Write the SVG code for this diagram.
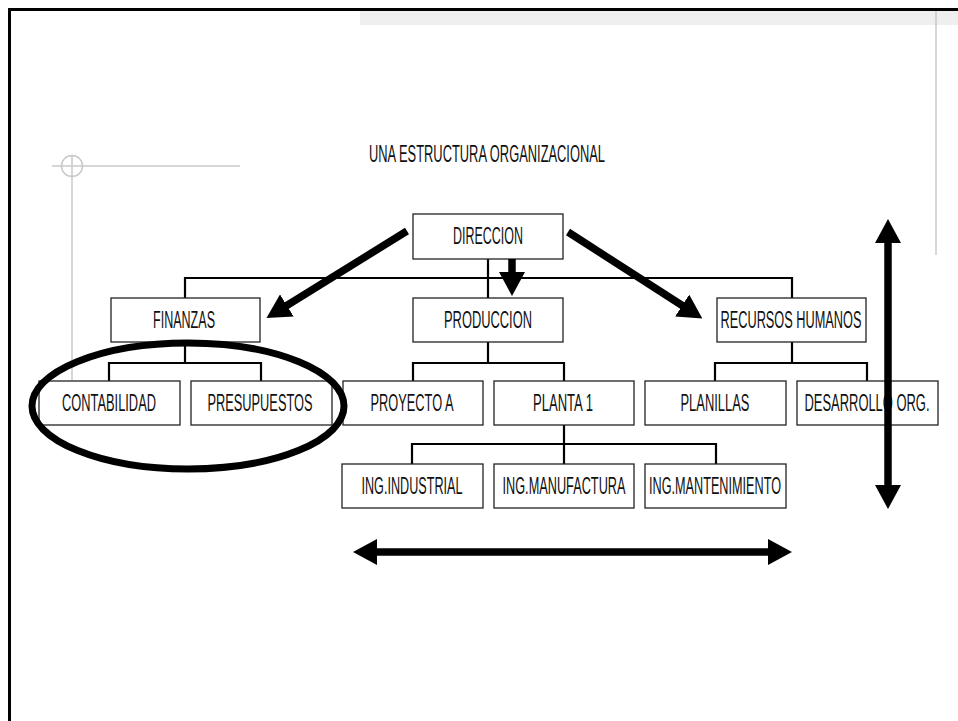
<svg xmlns="http://www.w3.org/2000/svg" width="958" height="721" viewBox="0 0 958 721">
<style>
.box{fill:#fff;stroke:#222;stroke-width:1.3}
.lbl{font-family:"Liberation Sans Narrow","Liberation Sans",Arial,sans-serif;font-size:23px;fill:#111;text-anchor:middle}
.conn{fill:none;stroke:#000;stroke-width:2.2}
.guide{fill:none;stroke:#c8c8c8;stroke-width:1.5}
.big{fill:none;stroke:#000;stroke-width:7.5}
</style>
<defs>
<marker id="ah" viewBox="0 0 24 26" refX="1" refY="13" markerWidth="24" markerHeight="26" markerUnits="userSpaceOnUse" orient="auto-start-reverse">
<path d="M0,0 L24,13 L0,26 Z" fill="#000"/>
</marker>
</defs>
<rect x="0" y="0" width="958" height="721" fill="#fff"/>
<g id="frame">
<rect x="360" y="11" width="598" height="14" fill="#efefef"/>
<line x1="8" y1="9.5" x2="958" y2="9.5" stroke="#000" stroke-width="3"/>
<line x1="9.5" y1="8" x2="9.5" y2="721" stroke="#000" stroke-width="3"/>
<line class="guide" x1="936" y1="11" x2="936" y2="255"/>
<line class="guide" x1="52" y1="166" x2="240" y2="166"/>
<line class="guide" x1="72" y1="156" x2="72" y2="380"/>
<circle class="guide" cx="72" cy="166" r="10.5"/>
</g>
<g id="title">
<text class="lbl" x="487" y="162" font-size="21.5" textLength="236" lengthAdjust="spacingAndGlyphs">UNA ESTRUCTURA ORGANIZACIONAL</text>
</g>
<g id="connectors">
<line class="conn" x1="488" y1="259" x2="488" y2="298"/>
<polyline class="conn" points="185,298 185,278 792,278 792,298"/>
<polyline class="conn" points="185,342 185,363"/>
<polyline class="conn" points="109,381 109,363 261,363 261,381"/>
<polyline class="conn" points="488,342 488,363"/>
<polyline class="conn" points="413,381 413,363 564,363 564,381"/>
<polyline class="conn" points="792,342 792,363"/>
<polyline class="conn" points="715,381 715,363 867,363 867,381"/>
<polyline class="conn" points="564,425 564,464"/>
<polyline class="conn" points="412,464 412,444 716,444 716,464"/>
</g>
<g id="direccion"><rect class="box" x="413" y="214" width="150" height="45"/><text class="lbl" x="488" y="244" textLength="70" lengthAdjust="spacingAndGlyphs">DIRECCION</text></g>
<g id="finanzas"><rect class="box" x="111" y="298" width="149" height="44"/><text class="lbl" x="184" y="328" textLength="62" lengthAdjust="spacingAndGlyphs">FINANZAS</text></g>
<g id="produccion"><rect class="box" x="413" y="298" width="150" height="44"/><text class="lbl" x="488" y="328" textLength="88" lengthAdjust="spacingAndGlyphs">PRODUCCION</text></g>
<g id="rrhh"><rect class="box" x="717" y="298" width="149" height="44"/><text class="lbl" x="791" y="328" textLength="141" lengthAdjust="spacingAndGlyphs">RECURSOS HUMANOS</text></g>
<g id="contabilidad"><rect class="box" x="39" y="381" width="141" height="44"/><text class="lbl" x="109" y="411" textLength="94" lengthAdjust="spacingAndGlyphs">CONTABILIDAD</text></g>
<g id="presupuestos"><rect class="box" x="191" y="381" width="141" height="44"/><text class="lbl" x="260" y="411" textLength="105" lengthAdjust="spacingAndGlyphs">PRESUPUESTOS</text></g>
<g id="proyecto-a"><rect class="box" x="343" y="381" width="140" height="44"/><text class="lbl" x="412" y="411" textLength="83" lengthAdjust="spacingAndGlyphs">PROYECTO A</text></g>
<g id="planta-1"><rect class="box" x="494" y="381" width="140" height="44"/><text class="lbl" x="563" y="411" textLength="60" lengthAdjust="spacingAndGlyphs">PLANTA 1</text></g>
<g id="planillas"><rect class="box" x="645" y="381" width="141" height="44"/><text class="lbl" x="715" y="411" textLength="69" lengthAdjust="spacingAndGlyphs">PLANILLAS</text></g>
<g id="desarrollo-org"><rect class="box" x="797" y="381" width="141" height="44"/><text class="lbl" x="867" y="411" textLength="125" lengthAdjust="spacingAndGlyphs">DESARROLLO ORG.</text></g>
<g id="ing-industrial"><rect class="box" x="342" y="464" width="141" height="44"/><text class="lbl" x="412" y="494" textLength="101" lengthAdjust="spacingAndGlyphs">ING.INDUSTRIAL</text></g>
<g id="ing-manufactura"><rect class="box" x="494" y="464" width="140" height="44"/><text class="lbl" x="564" y="494" textLength="123" lengthAdjust="spacingAndGlyphs">ING.MANUFACTURA</text></g>
<g id="ing-mantenimiento"><rect class="box" x="645" y="464" width="141" height="44"/><text class="lbl" x="715" y="494" textLength="132" lengthAdjust="spacingAndGlyphs">ING.MANTENIMIENTO</text></g>
<g id="emphasis">
<line class="big" x1="407" y1="231" x2="286" y2="306" marker-end="url(#ah)"/>
<line class="big" x1="568" y1="232" x2="683" y2="306" marker-end="url(#ah)"/>
<line class="big" x1="512" y1="259" x2="512" y2="273" marker-end="url(#ah)"/>
<line class="big" x1="376" y1="552" x2="769" y2="552" stroke-width="8" marker-start="url(#ah)" marker-end="url(#ah)"/>
<line class="big" x1="888" y1="242" x2="888" y2="486" marker-start="url(#ah)" marker-end="url(#ah)"/>
<ellipse cx="188" cy="406" rx="156" ry="63" fill="none" stroke="#000" stroke-width="7"/>
</g>
</svg>
